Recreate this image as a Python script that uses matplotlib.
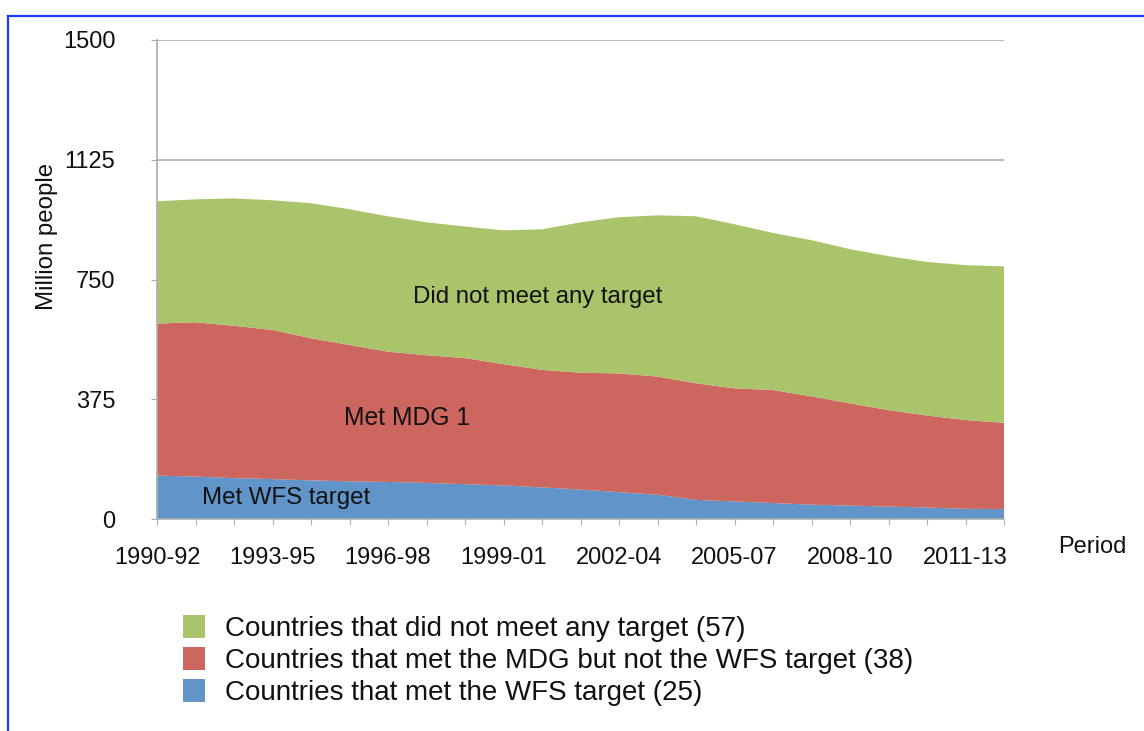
import matplotlib.pyplot as plt
from matplotlib.patches import Patch
from matplotlib.lines import Line2D

plt.rcParams['font.family'] = ['Liberation Sans', 'DejaVu Sans']

# 3-year periods, 1990-92 .. 2012-14
periods = ['1990-92', '1991-93', '1992-94', '1993-95', '1994-96', '1995-97',
           '1996-98', '1997-99', '1998-00', '1999-01', '2000-02', '2001-03',
           '2002-04', '2003-05', '2004-06', '2005-07', '2006-08', '2007-09',
           '2008-10', '2009-11', '2010-12', '2011-13', '2012-14']

# million people
met_wfs = [136, 133, 128, 125, 121, 118, 116, 113, 109, 105, 99, 92,
           84, 76, 60, 55, 50, 45, 42, 39, 36, 32, 31]
met_mdg = [476, 483, 477, 467, 445, 427, 408, 400, 395, 380, 368, 366,
           372, 370, 365, 354, 354, 339, 320, 302, 288, 278, 270]
no_target = [383, 385, 399, 406, 423, 425, 424, 416, 412, 419, 440, 471,
             489, 505, 523, 514, 492, 489, 483, 482, 481, 485, 490]

legend_labels = ['Countries that did not meet any target (57)',
                 'Countries that met the MDG but not the WFS target (38)',
                 'Countries that met the WFS target (25)']
y_ticks = [0, 375, 750, 1125, 1500]

green = '#AAC46C'
red = '#CC665E'
blue = '#6194C8'
grid_col = '#ADADAD'
txt = '#111111'

fig = plt.figure(figsize=(11.44, 7.31), dpi=100)
ax = fig.add_axes([157 / 1144, 1 - 519 / 731, 847 / 1144, 479 / 731])

x = list(range(len(periods)))
ax.stackplot(x, met_wfs, met_mdg, no_target, colors=[blue, red, green], linewidth=0)

ax.set_xlim(0, len(periods) - 1)
ax.set_ylim(0, 1500)
ax.set_yticks(y_ticks)
ax.set_yticklabels([str(v) for v in y_ticks])
ax.set_xticks(x)
ax.set_xticklabels([p if i % 3 == 0 else '' for i, p in enumerate(periods)])

ax.grid(axis='y', color=grid_col, lw=1.2)
ax.set_axisbelow(True)
for s in ['top', 'right']:
    ax.spines[s].set_visible(False)
for s in ['left', 'bottom']:
    ax.spines[s].set_color(grid_col)
    ax.spines[s].set_linewidth(1.2)
ax.tick_params(axis='y', length=4, color=grid_col, pad=26, labelsize=17, labelcolor=txt)
ax.tick_params(axis='x', length=4, color=grid_col, pad=16, labelsize=17, labelcolor=txt)

ax.set_ylabel('Million people', fontsize=17.3, color=txt)
ax.yaxis.set_label_coords(-0.117, 0.589)
fig.text(1058 / 1144, 1 - 547 / 731, 'Period', fontsize=17, color=txt, va='center', ha='left')

# labels inside the areas
ax.text(9.88, 695, 'Did not meet any target', fontsize=17.3, color=txt, ha='center', va='center')
ax.text(6.5, 317, 'Met MDG 1', fontsize=17.8, color=txt, ha='center', va='center')
ax.text(3.34, 67, 'Met WFS target', fontsize=17.3, color=txt, ha='center', va='center')

handles = [Patch(facecolor=green), Patch(facecolor=red), Patch(facecolor=blue)]
fig.legend(handles, legend_labels, loc='upper left', bbox_to_anchor=(183 / 1144, 1 - 615 / 731),
           frameon=False, fontsize=20, handlelength=0.8, handleheight=0.9,
           handletextpad=0.7, labelspacing=0.17, borderpad=0, borderaxespad=0,
           labelcolor=txt)

# blue frame on top and left
fig.add_artist(Line2D([8 / 1144, 1], [1 - 16 / 731, 1 - 16 / 731], color='#1a3cff', lw=1.6))
fig.add_artist(Line2D([8 / 1144, 8 / 1144], [0, 1 - 16 / 731], color='#1a3cff', lw=1.6))

fig.savefig('out.png', dpi=100)
